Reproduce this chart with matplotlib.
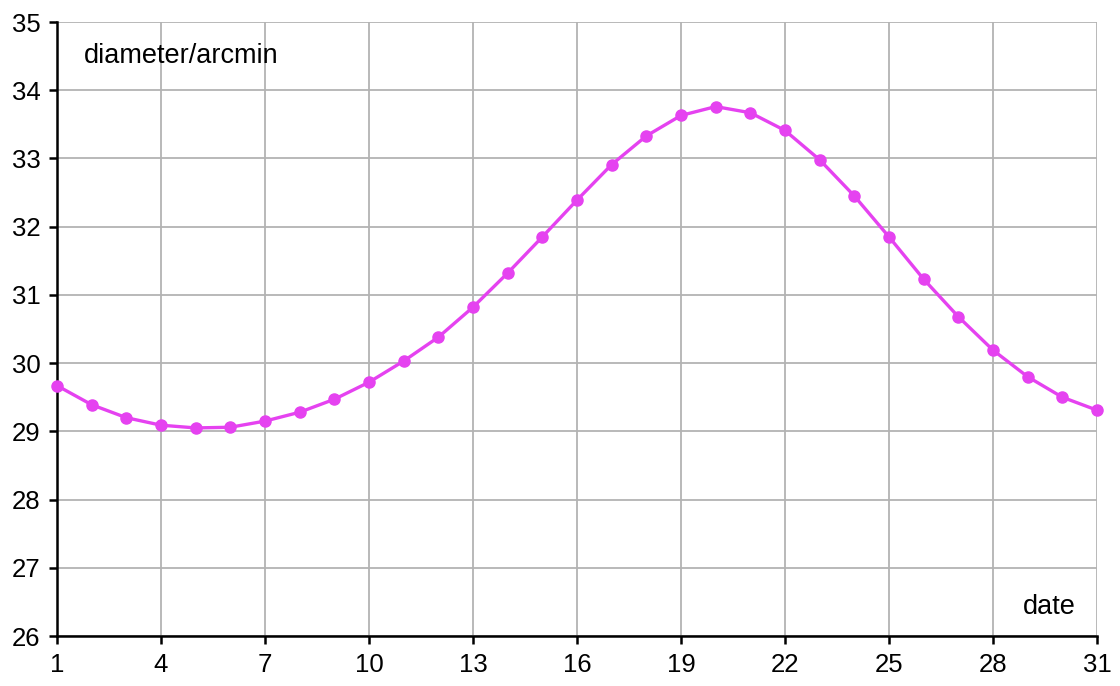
import numpy as np
from matplotlib import pyplot as plt

# data
dates = list(range(1, 32))
diameter = [29.67, 29.39, 29.20, 29.09, 29.05, 29.06, 29.15, 29.28, 29.47, 29.72,
            30.03, 30.38, 30.82, 31.32, 31.85, 32.39, 32.91, 33.33, 33.63, 33.76,
            33.67, 33.41, 32.98, 32.45, 31.85, 31.23, 30.68, 30.19, 29.80, 29.50, 29.31]
x_ticks = list(range(1, 32, 3))
y_ticks = list(range(26, 36))

plt.rcParams['font.family'] = ['Liberation Sans', 'DejaVu Sans']

fig = plt.figure(figsize=(11.2, 6.86), dpi=100)
ax = fig.add_axes([57 / 1120, 50 / 686, 1040 / 1120, 614 / 686])

ax.plot(dates, diameter, color='#e542f0', lw=2.4, marker='o', ms=8, zorder=3, clip_on=False)

ax.set_xlim(1, 31)
ax.set_ylim(26, 35)
ax.set_xticks(x_ticks)
ax.set_yticks(y_ticks)
ax.grid(True, color='#b3b3b3', lw=1.3)
ax.set_axisbelow(True)
for s in ['top', 'right']:
    ax.spines[s].set_visible(False)
for s in ['left', 'bottom']:
    ax.spines[s].set_linewidth(1.8)
ax.tick_params(direction='out', length=6, width=1.8, labelsize=18.5, pad=6)

ax.text(0.026, 0.944, 'diameter/arcmin', transform=ax.transAxes, fontsize=19.5, va='center', ha='left')
ax.text(0.98, 0.047, 'date', transform=ax.transAxes, fontsize=19.5, va='center', ha='right')

fig.savefig('out.png', dpi=100)
